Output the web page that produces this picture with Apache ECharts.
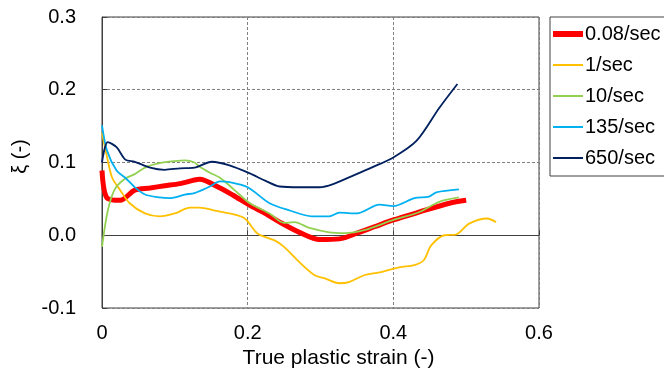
<!DOCTYPE html>
<html><head><meta charset="utf-8">
<script src="https://cdn.jsdelivr.net/npm/echarts@6/dist/echarts.min.js"></script>
<style>html,body{margin:0;padding:0;background:#fff}#c{width:664px;height:376px}</style>
</head><body><div id="c"></div>
<script>
const seriesNames = ['0.08/sec', '1/sec', '10/sec', '135/sec', '650/sec'];
const seriesColors = ['#FF0000', '#FFC000', '#92D050', '#00B0F0', '#002060'];
const xTicks = ['0', '0.2', '0.4', '0.6'];
const yTicks = ['-0.1', '0.0', '0.1', '0.2', '0.3'];

const s008 = [[0,0.089],[0.007,0.051],[0.025,0.048],[0.045,0.062],[0.066,0.065],[0.086,0.068],[0.107,0.071],[0.127,0.076],[0.134,0.077],[0.16,0.066],[0.18,0.055],[0.203,0.041],[0.224,0.03],[0.244,0.018],[0.271,0.004],[0.299,-0.006],[0.326,-0.005],[0.353,0.004],[0.375,0.012],[0.4,0.021],[0.436,0.032],[0.477,0.044],[0.5,0.048]];
const s1 = [[0,0.141],[0.007,0.107],[0.014,0.079],[0.025,0.062],[0.038,0.044],[0.059,0.03],[0.079,0.026],[0.1,0.03],[0.121,0.038],[0.134,0.038],[0.155,0.034],[0.175,0.03],[0.196,0.023],[0.214,0.002],[0.237,-0.007],[0.25,-0.016],[0.271,-0.037],[0.292,-0.055],[0.305,-0.059],[0.326,-0.066],[0.34,-0.064],[0.36,-0.055],[0.381,-0.051],[0.408,-0.044],[0.429,-0.041],[0.442,-0.034],[0.452,-0.014],[0.47,0.0],[0.486,0.001],[0.504,0.016],[0.529,0.023],[0.541,0.018]];
const s10 = [[0,-0.016],[0.008,0.034],[0.018,0.064],[0.032,0.078],[0.045,0.084],[0.059,0.093],[0.079,0.099],[0.1,0.102],[0.114,0.103],[0.127,0.1],[0.134,0.094],[0.148,0.086],[0.162,0.079],[0.182,0.062],[0.203,0.044],[0.23,0.03],[0.25,0.017],[0.264,0.018],[0.285,0.01],[0.312,0.004],[0.333,0.003],[0.36,0.007],[0.4,0.021],[0.436,0.032],[0.463,0.046],[0.49,0.052]];
const s135 = [[0,0.151],[0.007,0.116],[0.02,0.089],[0.032,0.079],[0.045,0.066],[0.059,0.056],[0.079,0.052],[0.093,0.051],[0.114,0.056],[0.127,0.058],[0.148,0.067],[0.162,0.074],[0.175,0.073],[0.2,0.066],[0.23,0.044],[0.258,0.034],[0.288,0.026],[0.312,0.026],[0.326,0.031],[0.35,0.03],[0.381,0.042],[0.4,0.04],[0.429,0.051],[0.449,0.053],[0.459,0.059],[0.49,0.063]];
const s650 = [[0,0.1],[0.008,0.128],[0.02,0.121],[0.032,0.104],[0.045,0.101],[0.066,0.093],[0.086,0.09],[0.107,0.092],[0.127,0.093],[0.151,0.101],[0.175,0.096],[0.203,0.085],[0.224,0.075],[0.244,0.067],[0.271,0.066],[0.299,0.066],[0.319,0.071],[0.34,0.08],[0.37,0.093],[0.4,0.107],[0.432,0.13],[0.463,0.175],[0.488,0.208]];

const dataSets = [s008, s1, s10, s135, s650];
const widths = [5, 1.8, 1.8, 1.8, 1.8];

const chart = echarts.init(document.getElementById('c'));
const font = 'Liberation Sans, Arial, sans-serif';
chart.setOption({
  animation: false,
  textStyle: { fontFamily: font },
  grid: { left: 102, right: 125, top: 17, bottom: 68, show: true, borderColor: '#404040', borderWidth: 1, containLabel: false },
  legend: {
    orient: 'vertical', left: 550, top: 17,
    data: seriesNames.map((n, i) => ({
      name: n,
      icon: i === 0 ? 'path://M0 0H30V6H0Z' : 'path://M0 0H30V2H0Z',
      itemStyle: { color: seriesColors[i] }
    })),
    itemWidth: 30, itemHeight: 14, itemGap: 11,
    padding: [7, 30, 8, 3],
    borderColor: '#404040', borderWidth: 1, borderRadius: 0,
    textStyle: { fontSize: 20, color: '#000', fontFamily: font, padding: [0,0,0,-3] }
  },
  xAxis: {
    type: 'value', min: 0, max: 0.6, interval: 0.2,
    name: 'True plastic strain (-)', nameLocation: 'middle', nameGap: 39,
    nameTextStyle: { fontSize: 21, color: '#000', padding: [0, 0, 0, 36] },
    axisLine: { show: true, lineStyle: { color: '#404040', width: 1 } },
    axisTick: { show: true, inside: true, length: 5, lineStyle: { color: '#404040' } },
    axisLabel: { fontSize: 20, color: '#000', margin: 15, formatter: v => xTicks[Math.round(v / 0.2)] },
    splitLine: { show: true, lineStyle: { color: '#808080', type: [3, 2], width: 1 } }
  },
  yAxis: {
    type: 'value', min: -0.1, max: 0.3, interval: 0.1,
    name: 'ξ (-)', nameLocation: 'middle', nameGap: 70, nameRotate: 90,
    nameTextStyle: { fontSize: 20, color: '#000', padding: [0, 0, 0, 12] },
    axisLine: { show: true, lineStyle: { color: '#404040', width: 1 } },
    axisTick: { show: true, inside: true, length: 5, lineStyle: { color: '#404040' } },
    axisLabel: { fontSize: 20, color: '#000', margin: 26, formatter: v => yTicks[Math.round((v + 0.1) / 0.1)] },
    splitLine: { show: true, lineStyle: { color: '#808080', type: [3, 2], width: 1 } }
  },
  series: seriesNames.map((n, i) => ({
    name: n, type: 'line', data: dataSets[i], showSymbol: false, symbol: 'none',
    smooth: 0.3, z: i === 0 ? 2 : 3,
    lineStyle: { color: seriesColors[i], width: widths[i] },
    itemStyle: { color: seriesColors[i] }
  }))
});
</script></body></html>
